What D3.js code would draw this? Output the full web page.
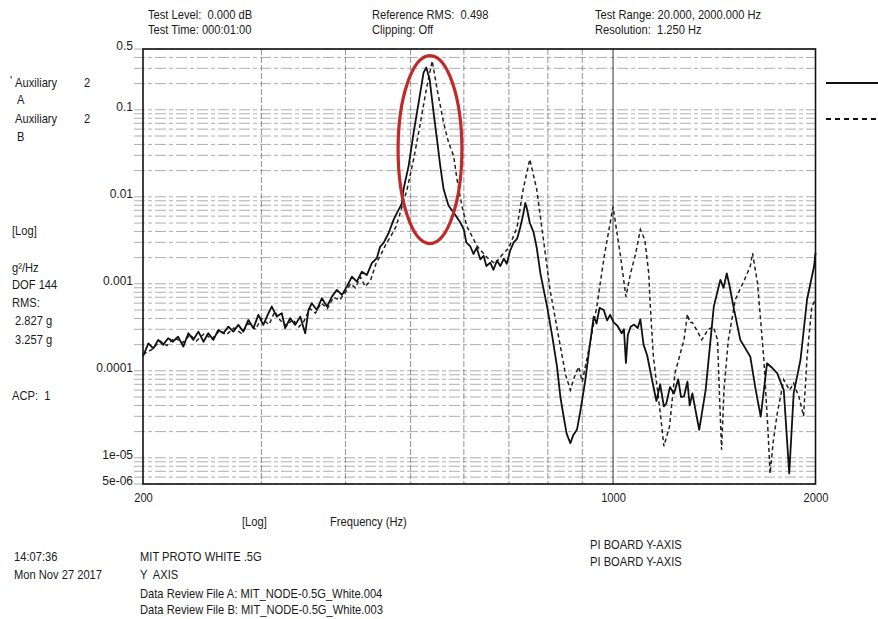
<!DOCTYPE html>
<html>
<head>
<meta charset="utf-8">
<script src="https://cdn.jsdelivr.net/npm/d3@7"></script>
<style>
  html, body { margin: 0; padding: 0; background: #fff; }
  svg { display: block; }
  text { font-family: "Liberation Sans Narrow", "Arial Narrow", "Liberation Sans", sans-serif; fill: #1a1a1a; white-space: pre; }
</style>
</head>
<body>
<svg id="chart" width="878" height="619"></svg>
<script>
// ---------------- data (frequency in Hz, PSD in g^2/Hz) ----------------
const seriesNames = ["Auxiliary 2 A", "Auxiliary 2 B"];

const freqA = [200,203.7,207.2,210.7,214.3,218,221.6,225.5,229.6,233.6,237.6,241.8,246,250.1,254.5,258.8,263.3,267.9,272.5,277.2,282,286.9,291.9,296.9,302,307.3,310.8,316.2,321.7,325.4,331,336.8,342.6,348.5,352.5,356.5,362.7,369,375.4,381.9,388.4,395.2,401.9,408.9,415.9,423.1,430.4,437.8,445.4,450.5,455.6,463.6,471.6,477,485.3,488,496.6,505.2,513.9,522.7,527.6,533.6,540.9,547.2,553.4,559.8,569.4,579.3,592.6,600,605,613.3,620,627,634.7,642,648,656.8,664,672,679.7,688,695,703,711.3,720,728,735,740.5,745,752,761.8,770,780,797.7,812,825.5,835,844.3,853,864,872,884,895,909.6,922,935.9,945,955,968.5,980,990,1002,1015,1030,1038,1045,1052,1062,1075,1088,1098,1110,1124,1148,1160,1175,1190,1200,1215,1232,1250,1262,1275,1290,1300,1312,1343,1373,1412,1444,1460,1476,1490,1510,1546,1600,1630,1658,1694,1720,1754,1794,1828,1856,1900,1943,1990,2000];
const psdA = [1.46e-4,2.07e-4,1.81e-4,2.27e-4,1.99e-4,2.37e-4,2.16e-4,2.47e-4,1.9e-4,2.7e-4,2.27e-4,2.82e-4,2.16e-4,2.7e-4,2.27e-4,2.95e-4,2.7e-4,3.22e-4,2.82e-4,3.37e-4,2.82e-4,3.84e-4,3.09e-4,4.4e-4,3.37e-4,4.59e-4,5.48e-4,4.2e-4,4.59e-4,3.09e-4,4.02e-4,3.37e-4,4.2e-4,2.7e-4,5.01e-4,5.98e-4,5.01e-4,6.84e-4,5.48e-4,7.13e-4,8.51e-4,7.45e-4,9.29e-4,1.21e-3,1.06e-3,1.38e-3,1.26e-3,1.73e-3,1.97e-3,2.68e-3,2.93e-3,3.81e-3,5.43e-3,6.48e-3,8.42e-3,0.0122,0.0227,0.0546,0.121,0.268,0.306,0.225,0.093,0.0459,0.0227,0.0122,7.9e-3,6.6e-3,5.1e-3,4.2e-3,3.0e-3,2.7e-3,2.2e-3,2.6e-3,1.91e-3,2.1e-3,1.6e-3,1.75e-3,1.45e-3,1.85e-3,1.6e-3,1.95e-3,1.7e-3,2.4e-3,2.98e-3,3.3e-3,4.5e-3,6.2e-3,8.5e-3,7.2e-3,5.0e-3,3.9e-3,2.6e-3,1.3e-3,5.5e-4,2.5e-4,1.11e-4,5.0e-5,2.97e-5,1.9e-5,1.47e-5,1.8e-5,2.12e-5,3.6e-5,7.9e-5,1.8e-4,4.2e-4,3.5e-4,5.3e-4,5.0e-4,3.8e-4,4.4e-4,3.6e-4,3.3e-4,2.7e-4,3.0e-4,1.23e-4,2.6e-4,3.2e-4,3.4e-4,3.1e-4,3.9e-4,2.0e-4,1.5e-4,6.6e-5,4.5e-5,7.0e-5,3.9e-5,4.2e-5,6.5e-5,5.5e-5,8.0e-5,5.0e-5,5.1e-5,7.5e-5,4.0e-5,5.5e-5,2.1e-5,6.0e-5,5.5e-4,1.11e-3,9.0e-4,1.32e-3,9.5e-4,5.5e-4,2.27e-4,1.45e-4,6.0e-5,2.97e-5,1.22e-4,1.1e-4,9.4e-5,6.0e-5,6.6e-6,5.5e-5,1.34e-4,6.6e-4,1.58e-3,2.27e-3];

const freqB = [200,206,212,217,223,229,235,240,247,253,260,266,273,280,287,294,300,308,314,320,327,334,341,347,354,361,368,376,384,392,400,407,414,421,428,436,444,452,460,468,476,486,494,505.2,516,527.6,538.4,547.5,559.8,569.4,579.3,586,596,606,628,650,668,680,700,720,735,752,770,788,806,835,850,864,876,889,900,920,946,970,1000,1026,1045,1062,1080,1098,1115,1130,1136,1148,1176,1190,1213,1236,1275,1290,1300,1312,1330,1355,1385,1410,1430,1440,1450,1462,1484,1520,1568,1600,1612,1640,1676,1700,1712,1730,1754,1794,1830,1856,1890,1920,1943,1975,2000];
const psdB = [1.55e-4,1.75e-4,2.2e-4,1.95e-4,2.4e-4,2.1e-4,2.6e-4,2.2e-4,2.7e-4,2.3e-4,2.9e-4,2.6e-4,3.1e-4,2.7e-4,3.5e-4,3.0e-4,4.0e-4,3.4e-4,4.8e-4,3.8e-4,3.3e-4,3.9e-4,3.2e-4,3.7e-4,5.2e-4,4.6e-4,6.0e-4,5.2e-4,7.0e-4,6.5e-4,8.0e-4,1.0e-3,9.0e-4,1.2e-3,9.3e-4,1.1e-3,1.7e-3,2.2e-3,2.9e-3,3.6e-3,4.6e-3,7.9e-3,0.0122,0.027,0.065,0.172,0.365,0.172,0.071,0.042,0.0295,0.016,7.9e-3,4.6e-3,2.7e-3,2.0e-3,1.7e-3,2.05e-3,2.6e-3,4.5e-3,0.0122,0.027,0.0122,3.2e-3,8.5e-4,1.9e-4,9.0e-5,6.0e-5,8.5e-5,1.11e-4,7.5e-5,1.73e-4,5.5e-4,2.05e-3,7.7e-3,2.05e-3,7.1e-4,1.33e-3,2.2e-3,4.2e-3,3.2e-3,1.32e-3,5.5e-4,1.45e-4,3.2e-5,1.36e-5,2.27e-5,9.4e-5,2.27e-4,4.5e-4,3.6e-4,3.6e-4,3.0e-4,2.27e-4,3.0e-4,3.2e-4,2.27e-4,5.0e-5,1.24e-5,6.0e-5,2.27e-4,6.6e-4,1.11e-3,1.6e-3,2.25e-3,1.02e-3,1.34e-4,2.0e-5,6.6e-6,1.5e-5,3.2e-5,7.9e-5,6.0e-5,7.2e-5,5.0e-5,3.0e-5,1.45e-4,5.5e-4,6.6e-4];

const xTickValues = [200, 1000, 2000];
const xTickLabels = ["200", "1000", "2000"];
const xGridValues = [300, 400, 500, 600, 700, 800, 900, 1000];
const yTickValues = [0.5, 0.1, 0.01, 0.001, 0.0001, 0.00001, 0.000005];
const yTickLabels = ["0.5", "0.1", "0.01", "0.001", "0.0001", "1e-05", "5e-06"];

// highlighted region (red ellipse) in data units
const highlightFreq = [479, 596];
const highlightPsd = [2.9e-3, 0.42];

// ---------------- drawing ----------------
const FONT = '"Liberation Sans Narrow", "Arial Narrow", "Liberation Sans", sans-serif';
const SQUEEZE = 0.93;
const svg = d3.select("#chart");
const x = d3.scaleLog().domain([200, 2000]).range([143, 815.5]);
const y = d3.scaleLog().domain([5e-6, 0.5]).range([484, 49]);

const grid = svg.append("g");
// horizontal log gridlines
grid.selectAll("line.h").data(y.ticks()).join("line")
  .attr("x1", 134).attr("x2", x.range()[1])
  .attr("y1", d => y(d)).attr("y2", d => y(d))
  .attr("stroke", "#999").attr("stroke-width", 0.8)
  .attr("stroke-dasharray", "11,3,4,3");
// vertical gridlines
grid.selectAll("line.v").data(xGridValues).join("line")
  .attr("x1", d => x(d)).attr("x2", d => x(d))
  .attr("y1", y.range()[1]).attr("y2", y.range()[0])
  .attr("stroke", d => d === 1000 ? "#333" : "#7a7a7a")
  .attr("stroke-width", d => d === 1000 ? 1 : 0.8)
  .attr("stroke-dasharray", d => d === 1000 ? null : "6,2");

// frame
svg.append("rect")
  .attr("x", x.range()[0]).attr("y", y.range()[1])
  .attr("width", x.range()[1] - x.range()[0])
  .attr("height", y.range()[0] - y.range()[1])
  .attr("fill", "none").attr("stroke", "#111").attr("stroke-width", 1.6);

// axes
const yAxis = d3.axisLeft(y).tickValues(yTickValues)
  .tickFormat((d, i) => yTickLabels[i]).tickSize(0).tickPadding(9);
const gy = svg.append("g").attr("transform", `translate(${x.range()[0] - 1},0)`).call(yAxis);
gy.select(".domain").remove();
gy.selectAll("text").attr("dy", "0.05em").style("font-size", "12px")
  .style("font-family", FONT).attr("fill", "#1a1a1a");

const xAxis = d3.axisBottom(x).tickValues(xTickValues)
  .tickFormat((d, i) => xTickLabels[i]).tickSize(0).tickPadding(9);
const gx = svg.append("g").attr("transform", `translate(0,${y.range()[0]})`).call(xAxis);
gx.select(".domain").remove();
gx.selectAll("text").style("font-size", "12px")
  .style("font-family", FONT).attr("fill", "#1a1a1a")
  .attr("transform", `scale(${SQUEEZE},1)`);

// series
const line = d3.line().x(d => x(d[0])).y(d => y(d[1]));
const dataA = freqA.map((f, i) => [f, psdA[i]]);
const dataB = freqB.map((f, i) => [f, psdB[i]]);
svg.append("path").datum(dataB).attr("d", line)
  .attr("fill", "none").attr("stroke", "#222").attr("stroke-width", 1.5)
  .attr("stroke-dasharray", "4,3");
svg.append("path").datum(dataA).attr("d", line)
  .attr("fill", "none").attr("stroke", "#111").attr("stroke-width", 1.8)
  .attr("stroke-linejoin", "round");

// red highlight ellipse
const ex0 = x(highlightFreq[0]), ex1 = x(highlightFreq[1]);
const ey0 = y(highlightPsd[1]), ey1 = y(highlightPsd[0]);
svg.append("ellipse")
  .attr("cx", (ex0 + ex1) / 2).attr("cy", (ey0 + ey1) / 2)
  .attr("rx", (ex1 - ex0) / 2).attr("ry", (ey1 - ey0) / 2)
  .attr("fill", "none").attr("stroke", "#bf2a2a").attr("stroke-width", 3.2);

// legend line samples on the right
svg.append("line").attr("x1", 826).attr("x2", 878).attr("y1", 83).attr("y2", 83)
  .attr("stroke", "#111").attr("stroke-width", 2);
svg.append("line").attr("x1", 826).attr("x2", 878).attr("y1", 119).attr("y2", 119)
  .attr("stroke", "#111").attr("stroke-width", 1.8).attr("stroke-dasharray", "5,4");

// text blocks
function t(str, px, py) {
  svg.append("text").attr("x", 0).attr("y", 0)
    .attr("transform", `translate(${px},${py}) scale(${SQUEEZE},1)`)
    .style("font-size", "12px").text(str);
}
t("Test Level:  0.000 dB", 148, 19);
t("Test Time: 000:01:00", 148, 34);
t("Reference RMS:  0.498", 372, 19);
t("Clipping: Off", 372, 34);
t("Test Range: 20.000, 2000.000 Hz", 595, 19);
t("Resolution:  1.250 Hz", 595, 34);

t("'", 10, 85);
t("Auxiliary", 15, 87);
t("2", 84, 87);
t("A", 17, 104);
t("Auxiliary", 15, 123);
t("2", 84, 123);
t("B", 17, 141);
t("[Log]", 12, 235);
t("g²/Hz", 12, 272);
t("DOF 144", 12, 289);
t("RMS:", 12, 307);
t("2.827 g", 15, 325);
t("3.257 g", 15, 344);
t("ACP:  1", 12, 400);

t("[Log]", 242, 526);
t("Frequency (Hz)", 330, 526);
t("14:07:36", 14, 561);
t("Mon Nov 27 2017", 14, 579);
t("MIT PROTO WHITE .5G", 140, 561);
t("Y  AXIS", 140, 579);
t("Data Review File A: MIT_NODE-0.5G_White.004", 140, 598);
t("Data Review File B: MIT_NODE-0.5G_White.003", 140, 614);
t("PI BOARD Y-AXIS", 590, 549);
t("PI BOARD Y-AXIS", 590, 566);
</script>
</body>
</html>
